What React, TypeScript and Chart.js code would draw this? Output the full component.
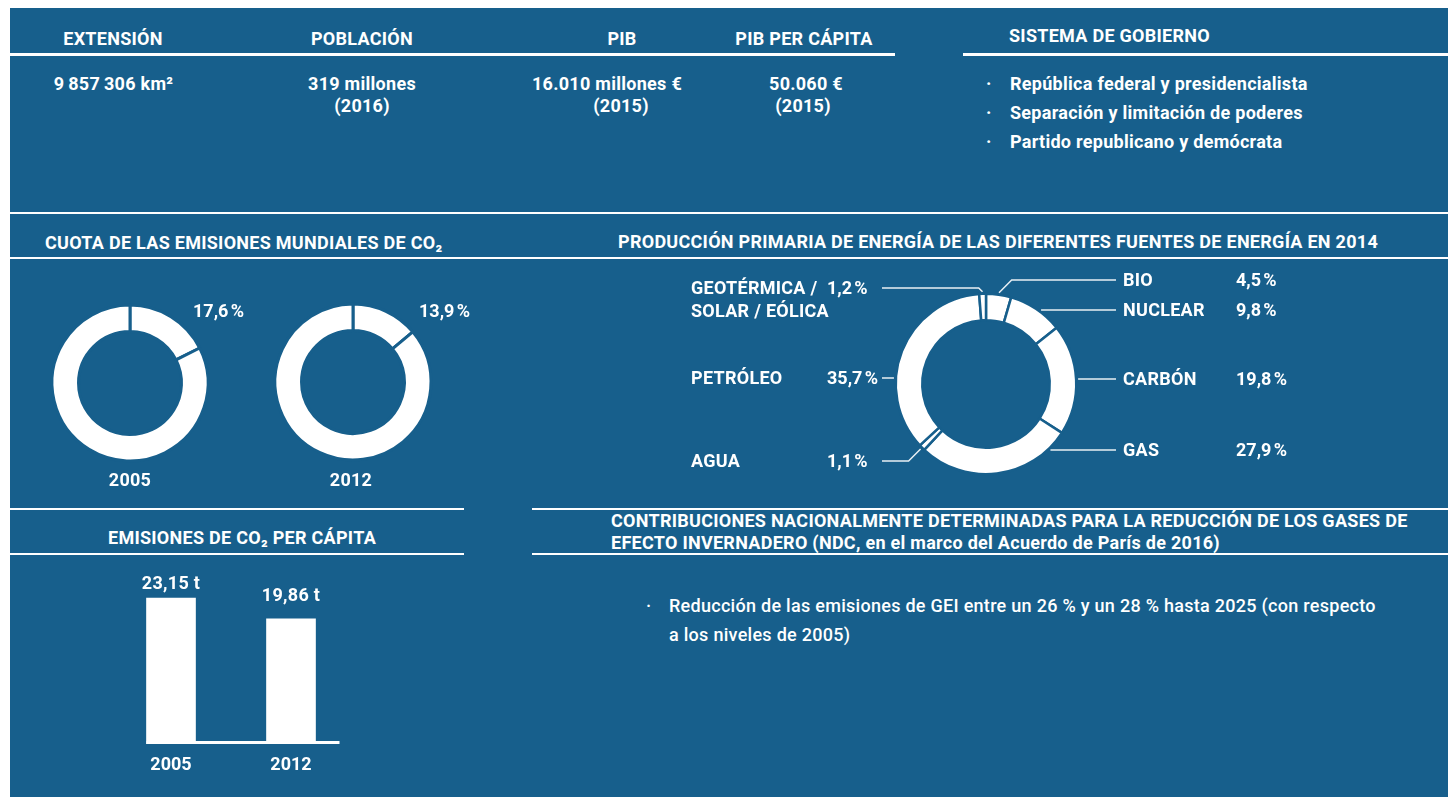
import React, { useEffect, useRef } from "react";
import { Chart, registerables } from "chart.js";

Chart.register(...registerables);

const BG = "#175f8c";
const FAMILY = "Roboto, 'Noto Sans', 'DejaVu Sans', sans-serif";
const FS = 18;
const LS = 0.28;
Chart.defaults.font.family = FAMILY;

// ---------------- Data ----------------
const shareYears = ["2005", "2012"];
const shareValues = [17.6, 13.9];
const shareRestValues = [82.4, 86.1];
const shareLabels = ["17,6\u202F%", "13,9\u202F%"];

const energyNames = ["BIO", "NUCLEAR", "CARBÓN", "GAS", "AGUA", "PETRÓLEO", "GEOTÉRMICA /\nSOLAR / EÓLICA"];
const energyValues = [4.5, 9.8, 19.8, 27.9, 1.1, 35.7, 1.2];
const energyValueLabels = ["4,5\u202F%", "9,8\u202F%", "19,8\u202F%", "27,9\u202F%", "1,1\u202F%", "35,7\u202F%", "1,2\u202F%"];

const perCapitaYears = ["2005", "2012"];
const perCapitaValues = [23.15, 19.86];
const perCapitaLabels = ["23,15 t", "19,86 t"];

const governmentItems = [
  "República federal y presidencialista",
  "Separación y limitación de poderes",
  "Partido republicano y demócrata",
];

// ---------------- Layout (positions only) ----------------
const ENERGY_CX = 986;
const ENERGY_CY = 384;
const energySide = ["right", "right", "right", "right", "left", "left", "left"];
const energyLabelDy = [-104, -74, -5, 66, 77, -6, -96];
const barLabelOffset = [15, 23];

// ---------------- Helpers ----------------
function Txt({ x, y, text, align = "left", size = FS, weight = 700 }: any) {
  return (
    <div
      style={{
        position: "absolute",
        left: x,
        top: y,
        transform: `translate(${align === "center" ? "-50%" : "0"}, -50%)`,
        fontSize: size,
        fontWeight: weight,
        letterSpacing: LS,
        lineHeight: 1,
        color: "#fff",
        whiteSpace: "pre",
      }}
    >
      {text}
    </div>
  );
}

function HLine({ x1, x2, y, h = 2.5 }: any) {
  return <div style={{ position: "absolute", left: x1, top: y, width: x2 - x1, height: h, background: "#fff" }} />;
}

function ChartCanvas({ left, top, width, height, makeConfig }: any) {
  const ref = useRef<HTMLCanvasElement | null>(null);
  useEffect(() => {
    const chart = new Chart(ref.current as HTMLCanvasElement, makeConfig());
    return () => chart.destroy();
  }, []);
  return (
    <canvas
      ref={ref}
      width={width}
      height={height}
      style={{ position: "absolute", left, top, width, height }}
    />
  );
}

const noPlugins = { legend: { display: false }, tooltip: { enabled: false } };

function shareConfig(i: number) {
  return {
    type: "doughnut",
    data: {
      labels: ["EE. UU.", "Resto del mundo"],
      datasets: [
        {
          data: [shareValues[i], shareRestValues[i]],
          backgroundColor: ["#ffffff", "#ffffff"],
          borderColor: BG,
          borderWidth: 3,
          hoverOffset: 0,
          offset: 0,
          radius: 78,
          cutout: "66%",
        },
      ],
    },
    options: {
      responsive: false,
      animation: false,
      events: [],
      layout: { padding: 0 },
      plugins: noPlugins,
    },
  };
}

const energyLeaderPlugin = {
  id: "energyLeaders",
  afterDatasetsDraw(chart: any) {
    const meta = chart.getDatasetMeta(0);
    const ctx = chart.ctx;
    ctx.save();
    ctx.strokeStyle = "rgba(255,255,255,0.9)";
    ctx.lineWidth = 1.5;
    meta.data.forEach((arc: any, i: number) => {
      const { x: cx, y: cy, startAngle, endAngle, outerRadius } = arc;
      const R = outerRadius + 2;
      const side = energySide[i] === "right" ? 1 : -1;
      const ly = cy + energyLabelDy[i];
      const dy = ly - cy;
      const endX = cx + (side > 0 ? 130 : -104);
      let pts: number[][] | null = null;
      if (Math.abs(dy) < R) {
        const dx = side * Math.sqrt(R * R - dy * dy);
        let a = Math.atan2(dy, dx);
        while (a < startAngle) a += Math.PI * 2;
        while (a >= startAngle + Math.PI * 2) a -= Math.PI * 2;
        if (a <= endAngle) pts = [[cx + dx, ly], [endX, ly]];
      }
      if (!pts) {
        const mid = (startAngle + endAngle) / 2;
        const ax = cx + R * Math.cos(mid);
        const ay = cy + R * Math.sin(mid);
        const ex = ax + side * Math.abs(ly - ay);
        pts = [[ax, ay], [ex, ly], [endX, ly]];
      }
      ctx.beginPath();
      pts.forEach((p, k) => (k === 0 ? ctx.moveTo(p[0], p[1]) : ctx.lineTo(p[0], p[1])));
      ctx.stroke();
    });
    ctx.restore();
  },
};

function energyConfig() {
  return {
    type: "doughnut",
    data: {
      labels: energyNames,
      datasets: [
        {
          data: energyValues,
          backgroundColor: "#ffffff",
          borderColor: BG,
          borderWidth: 2.5,
          hoverOffset: 0,
          offset: 0,
          radius: 90.25,
          cutout: "70.6%",
        },
      ],
    },
    options: {
      responsive: false,
      animation: false,
      events: [],
      layout: { padding: 0 },
      plugins: noPlugins,
    },
    plugins: [energyLeaderPlugin],
  };
}

const barExtrasPlugin = {
  id: "barExtras",
  afterDatasetsDraw(chart: any) {
    const meta = chart.getDatasetMeta(0);
    const ctx = chart.ctx;
    const y0 = chart.scales.y.getPixelForValue(0);
    const first = meta.data[0];
    const last = meta.data[meta.data.length - 1];
    const w = first.width;
    ctx.save();
    ctx.fillStyle = "#ffffff";
    const xs = first.x - w / 2;
    const xe = last.x + w / 2 + 24;
    ctx.fillRect(xs, y0 - 3, xe - xs, 3);
    ctx.font = `bold ${FS}px ${FAMILY}`;
    try {
      (ctx as any).letterSpacing = `${LS}px`;
    } catch (e) {}
    ctx.textAlign = "center";
    ctx.textBaseline = "middle";
    meta.data.forEach((bar: any, i: number) => {
      ctx.fillText(perCapitaLabels[i], bar.x, bar.y - barLabelOffset[i] + 1);
    });
    ctx.restore();
  },
};

function barConfig() {
  return {
    type: "bar",
    data: {
      labels: perCapitaYears,
      datasets: [
        {
          data: perCapitaValues,
          backgroundColor: "#ffffff",
          borderWidth: 0,
          barThickness: 49,
        },
      ],
    },
    options: {
      responsive: false,
      animation: false,
      events: [],
      layout: { padding: 0 },
      plugins: noPlugins,
      scales: {
        x: {
          grid: { display: false, drawTicks: false },
          border: { display: false },
          ticks: { color: "#ffffff", font: { family: FAMILY, size: FS, weight: "bold" }, padding: 11 },
          afterFit: (s: any) => {
            s.height = 46;
          },
        },
        y: { display: false, min: 0, max: 29.2 },
      },
    },
    plugins: [barExtrasPlugin],
  };
}

export default function App() {
  return (
    <div
      style={{
        position: "absolute",
        left: 0,
        top: 0,
        width: 1448,
        height: 797,
        background: "#ffffff",
        overflow: "hidden",
        fontFamily: FAMILY,
      }}
    >
      <div style={{ position: "absolute", left: 10, top: 8, right: 0, bottom: 0, background: BG }} />

      {/* rules */}
      <HLine x1={10} x2={895} y={53} />
      <HLine x1={963} x2={1448} y={53} />
      <HLine x1={10} x2={1448} y={212.2} h={2.2} />
      <HLine x1={10} x2={1448} y={257.3} h={2.2} />
      <HLine x1={10} x2={464} y={507.5} />
      <HLine x1={532} x2={1448} y={507.5} />
      <HLine x1={10} x2={464} y={552.5} />
      <HLine x1={532} x2={1448} y={552.5} />

      {/* top section */}
      <Txt x={113} y={38.5} text="EXTENSIÓN" align="center" />
      <Txt x={362} y={38.5} text="POBLACIÓN" align="center" />
      <Txt x={622} y={38.5} text="PIB" align="center" />
      <Txt x={804} y={38.5} text="PIB PER CÁPITA" align="center" />
      <Txt x={1009} y={35.5} text="SISTEMA DE GOBIERNO" />

      <Txt x={113.5} y={84} text={"9\u2009857\u2009306 km²"} align="center" />
      <Txt x={362} y={84} text="319 millones" align="center" />
      <Txt x={362} y={106} text="(2016)" align="center" />
      <Txt x={607} y={84} text="16.010 millones €" align="center" />
      <Txt x={621} y={106} text="(2015)" align="center" />
      <Txt x={806} y={84} text="50.060 €" align="center" />
      <Txt x={803} y={106} text="(2015)" align="center" />

      {governmentItems.map((t, i) => (
        <React.Fragment key={t}>
          <Txt x={986} y={83.5 + i * 29.3} text="·" />
          <Txt x={1010} y={83.5 + i * 29.3} text={t} />
        </React.Fragment>
      ))}

      {/* CO2 share */}
      <Txt x={45} y={242.5} text="CUOTA DE LAS EMISIONES MUNDIALES DE CO₂" />
      <ChartCanvas left={30} top={283} width={200} height={200} makeConfig={() => shareConfig(0)} />
      <ChartCanvas left={253} top={282} width={200} height={200} makeConfig={() => shareConfig(1)} />
      <Txt x={193} y={311} text={shareLabels[0]} />
      <Txt x={419} y={311} text={shareLabels[1]} />
      <Txt x={130} y={480} text={shareYears[0]} align="center" />
      <Txt x={351} y={480} text={shareYears[1]} align="center" />

      {/* energy production */}
      <Txt x={618} y={242} text="PRODUCCIÓN PRIMARIA DE ENERGÍA DE LAS DIFERENTES FUENTES DE ENERGÍA EN 2014" />
      <ChartCanvas
        left={ENERGY_CX - 400}
        top={ENERGY_CY - 120}
        width={800}
        height={240}
        makeConfig={energyConfig}
      />
      {energyNames.map((name, i) => {
        const right = energySide[i] === "right";
        const y = ENERGY_CY + energyLabelDy[i];
        const lines = name.split("\n");
        return (
          <React.Fragment key={name}>
            {lines.map((ln, k) => (
              <Txt key={ln} x={ENERGY_CX + (right ? 137 : -295)} y={y + k * 23} text={ln} />
            ))}
            <Txt x={ENERGY_CX + (right ? 250 : -159)} y={y} text={energyValueLabels[i]} />
          </React.Fragment>
        );
      })}

      {/* per capita */}
      <Txt x={242} y={537.5} text="EMISIONES DE CO₂ PER CÁPITA" align="center" />
      <ChartCanvas left={111} top={560} width={240} height={230} makeConfig={barConfig} />

      {/* NDC */}
      <Txt x={611} y={521} text="CONTRIBUCIONES NACIONALMENTE DETERMINADAS PARA LA REDUCCIÓN DE LOS GASES DE" />
      <Txt x={611} y={542.5} text="EFECTO INVERNADERO (NDC, en el marco del Acuerdo de París de 2016)" />
      <Txt x={646} y={606} text="·" weight={500} />
      <Txt
        x={669}
        y={606}
        weight={500}
        text="Reducción de las emisiones de GEI entre un 26 % y un 28 % hasta 2025 (con respecto"
      />
      <Txt x={669} y={635} weight={500} text="a los niveles de 2005)" />
    </div>
  );
}
